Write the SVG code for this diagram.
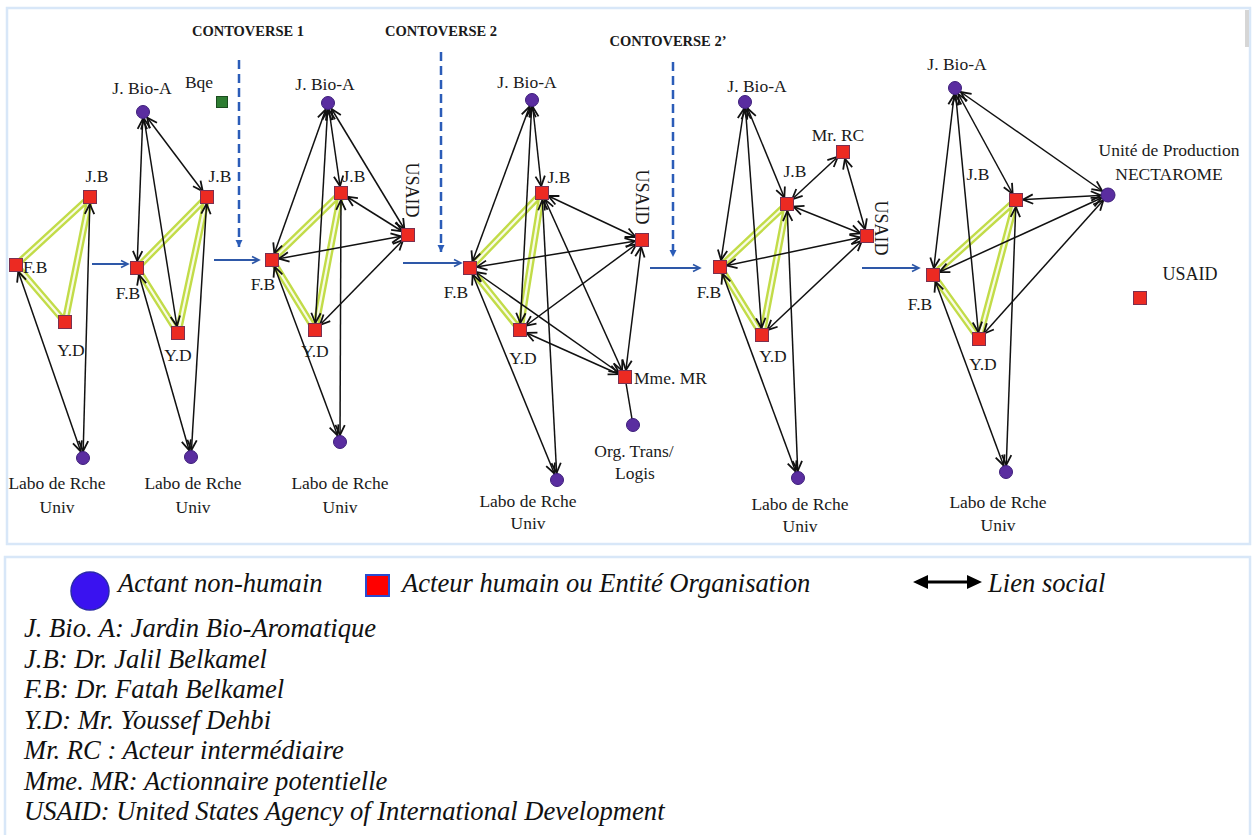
<svg xmlns="http://www.w3.org/2000/svg" width="1255" height="835" viewBox="0 0 1255 835">
<style>
.lbl{font-family:"Liberation Serif","Times New Roman",serif;font-size:17.5px;fill:#1a1a1a}
.mid{text-anchor:middle}
.ctv{font-family:"Liberation Serif","Times New Roman",serif;font-size:14.5px;font-weight:bold;fill:#1a1a1a;text-anchor:middle}
.leg{font-family:"Liberation Serif","Times New Roman",serif;font-size:26.6px;font-style:italic;fill:#111}
.sq{fill:#ec2a22;stroke:#7a3050;stroke-width:1}
.ci{fill:#5a2da0;stroke:#3d1f7a;stroke-width:1}
.lk{stroke:#111;stroke-width:1.5;fill:none;marker-start:url(#ah);marker-end:url(#ah)}
.pl{stroke:#111;stroke-width:1.5;fill:none}
.gO{stroke:#c2dc48;stroke-width:7;stroke-linecap:round;fill:none}
.gI{stroke:#f8fbe6;stroke-width:2.2;stroke-linecap:round;fill:none}
.hb{stroke:#2e58a8;stroke-width:2;fill:none;marker-end:url(#bh)}
.db{stroke:#2b5cb8;stroke-width:2.5;stroke-dasharray:9 5;fill:none;marker-end:url(#dh)}
.frame{fill:#fff;stroke:#d8e7f8;stroke-width:2.5}
</style>
<defs>
<marker id="ah" markerUnits="userSpaceOnUse" markerWidth="20" markerHeight="12" refX="17" refY="5" orient="auto-start-reverse" overflow="visible">
<path d="M0,0.3 L10,5 L0,9.7" fill="none" stroke="#111" stroke-width="1.8"/>
</marker>
<marker id="bh" markerUnits="userSpaceOnUse" markerWidth="10" markerHeight="10" refX="8" refY="4" orient="auto" overflow="visible">
<path d="M1,0.5 L8,4 L1,7.5" fill="none" stroke="#2e58a8" stroke-width="1.6"/>
</marker>
<marker id="dh" markerUnits="userSpaceOnUse" markerWidth="10" markerHeight="10" refX="7" refY="3.5" orient="auto" overflow="visible">
<path d="M0,0 L7,3.5 L0,7 z" fill="#2b5cb8"/>
</marker>
</defs>
<rect x="0" y="0" width="1255" height="835" fill="#fff"/>
<rect class="frame" x="7" y="8" width="1243" height="536"/>
<rect x="1245" y="10" width="4" height="37" fill="#d6d6d6"/>
<rect class="frame" x="5" y="557" width="1245" height="290"/>

<g id="controversies">
<text class="ctv" x="248" y="36">CONTOVERSE 1</text>
<text class="ctv" x="441" y="36">CONTOVERSE 2</text>
<text class="ctv" x="668" y="46">CONTOVERSE 2’</text>
<line class="db" x1="239" y1="60" x2="239" y2="247"/>
<line class="db" x1="441" y1="52" x2="441" y2="252"/>
<line class="db" x1="673" y1="62" x2="673" y2="257"/>
</g>

<g id="connectors">
<line class="hb" x1="92" y1="264" x2="128" y2="264"/>
<line class="hb" x1="214" y1="260" x2="259" y2="260"/>
<line class="hb" x1="403" y1="263" x2="461" y2="263"/>
<line class="hb" x1="650" y1="268" x2="700" y2="268"/>
<line class="hb" x1="862" y1="268" x2="919" y2="268"/>
<g id="green">
<path class="gO" d="M16,265 L90,197 M16,265 L65,322 M65,322 L90,197"/>
<path class="gI" d="M16,265 L90,197 M16,265 L65,322 M65,322 L90,197"/>
<path class="gO" d="M137,268 L207,197 M137,268 L178,333 M178,333 L207,197"/>
<path class="gI" d="M137,268 L207,197 M137,268 L178,333 M178,333 L207,197"/>
<path class="gO" d="M272,260 L341,193 M272,260 L315,330 M315,330 L341,193"/>
<path class="gI" d="M272,260 L341,193 M272,260 L315,330 M315,330 L341,193"/>
<path class="gO" d="M470,268 L542,193 M470,268 L520,330 M520,330 L542,193"/>
<path class="gI" d="M470,268 L542,193 M470,268 L520,330 M520,330 L542,193"/>
<path class="gO" d="M720,267 L787,204 M720,267 L762,335 M762,335 L787,204"/>
<path class="gI" d="M720,267 L787,204 M720,267 L762,335 M762,335 L787,204"/>
<path class="gO" d="M933,275 L1016,200 M933,275 L979,339 M979,339 L1016,200"/>
<path class="gI" d="M933,275 L1016,200 M933,275 L979,339 M979,339 L1016,200"/>
</g>
<line class="lk" x1="16" y1="265" x2="83" y2="458"/>
<line class="lk" x1="90" y1="197" x2="83" y2="458"/>
<line class="lk" x1="143" y1="112" x2="137" y2="268"/>
<line class="lk" x1="143" y1="112" x2="178" y2="333"/>
<line class="lk" x1="143" y1="112" x2="207" y2="197"/>
<line class="lk" x1="137" y1="268" x2="191" y2="457"/>
<line class="lk" x1="207" y1="197" x2="191" y2="457"/>
<line class="lk" x1="328" y1="103" x2="272" y2="260"/>
<line class="lk" x1="328" y1="103" x2="315" y2="330"/>
<line class="lk" x1="328" y1="103" x2="341" y2="193"/>
<line class="lk" x1="328" y1="103" x2="408" y2="235"/>
<line class="lk" x1="341" y1="193" x2="408" y2="235"/>
<line class="lk" x1="272" y1="260" x2="408" y2="235"/>
<line class="lk" x1="315" y1="330" x2="408" y2="235"/>
<line class="lk" x1="272" y1="260" x2="340" y2="442"/>
<line class="lk" x1="341" y1="193" x2="340" y2="442"/>
<line class="lk" x1="532" y1="100" x2="470" y2="268"/>
<line class="lk" x1="532" y1="100" x2="520" y2="330"/>
<line class="lk" x1="532" y1="100" x2="542" y2="193"/>
<line class="lk" x1="542" y1="193" x2="642" y2="240"/>
<line class="lk" x1="542" y1="193" x2="625" y2="377"/>
<line class="lk" x1="542" y1="193" x2="557" y2="480"/>
<line class="lk" x1="470" y1="268" x2="642" y2="240"/>
<line class="lk" x1="470" y1="268" x2="557" y2="480"/>
<line class="lk" x1="470" y1="268" x2="625" y2="377"/>
<line class="lk" x1="520" y1="330" x2="642" y2="240"/>
<line class="lk" x1="520" y1="330" x2="625" y2="377"/>
<line class="lk" x1="642" y1="240" x2="625" y2="377"/>
<line class="pl" x1="625" y1="377" x2="633" y2="425"/>
<line class="lk" x1="745" y1="102" x2="720" y2="267"/>
<line class="lk" x1="745" y1="102" x2="762" y2="335"/>
<line class="lk" x1="745" y1="102" x2="787" y2="204"/>
<line class="lk" x1="787" y1="204" x2="843" y2="152"/>
<line class="lk" x1="843" y1="152" x2="867" y2="236"/>
<line class="lk" x1="787" y1="204" x2="867" y2="236"/>
<line class="lk" x1="720" y1="267" x2="867" y2="236"/>
<line class="lk" x1="762" y1="335" x2="867" y2="236"/>
<line class="lk" x1="720" y1="267" x2="798" y2="478"/>
<line class="lk" x1="787" y1="204" x2="798" y2="478"/>
<line class="lk" x1="955" y1="88" x2="933" y2="275"/>
<line class="lk" x1="955" y1="88" x2="979" y2="339"/>
<line class="lk" x1="955" y1="88" x2="1016" y2="200"/>
<line class="lk" x1="955" y1="88" x2="1108" y2="195"/>
<line class="lk" x1="1016" y1="200" x2="1108" y2="195"/>
<line class="lk" x1="933" y1="275" x2="1108" y2="195"/>
<line class="lk" x1="979" y1="339" x2="1108" y2="195"/>
<line class="lk" x1="933" y1="275" x2="1006" y2="472"/>
<line class="lk" x1="1016" y1="200" x2="1006" y2="472"/>
</g>

<g id="p1-FB"><rect class="sq" x="9.5" y="258.5" width="13" height="13"/><text class="lbl" x="23" y="273">F.B</text></g>
<g id="p1-JB"><rect class="sq" x="83.5" y="190.5" width="13" height="13"/><text class="lbl mid" x="97" y="182">J.B</text></g>
<g id="p1-YD"><rect class="sq" x="58.5" y="315.5" width="13" height="13"/><text class="lbl mid" x="71" y="356">Y.D</text></g>
<g id="p1-Labo"><circle class="ci" cx="83" cy="458" r="6.5"/><text class="lbl mid" x="57" y="489">Labo de Rche</text><text class="lbl mid" x="57" y="513">Univ</text></g>

<g id="p2-JBioA"><circle class="ci" cx="143" cy="112" r="6.5"/><text class="lbl mid" x="142" y="94">J. Bio-A</text></g>
<g id="p2-Bqe"><rect x="216.5" y="96.5" width="11" height="11" fill="#2e7d32" stroke="#1b4d1f" stroke-width="1"/><text class="lbl mid" x="199" y="88">Bqe</text></g>
<g id="p2-JB"><rect class="sq" x="200.5" y="190.5" width="13" height="13"/><text class="lbl mid" x="220" y="182">J.B</text></g>
<g id="p2-FB"><rect class="sq" x="130.5" y="261.5" width="13" height="13"/><text class="lbl mid" x="128" y="299">F.B</text></g>
<g id="p2-YD"><rect class="sq" x="171.5" y="326.5" width="13" height="13"/><text class="lbl mid" x="178" y="361">Y.D</text></g>
<g id="p2-Labo"><circle class="ci" cx="191" cy="457" r="6.5"/><text class="lbl mid" x="193" y="489">Labo de Rche</text><text class="lbl mid" x="193" y="513">Univ</text></g>

<g id="p3-JBioA"><circle class="ci" cx="328" cy="103" r="6.5"/><text class="lbl mid" x="325" y="90">J. Bio-A</text></g>
<g id="p3-JB"><rect class="sq" x="334.5" y="186.5" width="13" height="13"/><text class="lbl mid" x="354" y="182">J.B</text></g>
<g id="p3-USAID"><rect class="sq" x="401.5" y="228.5" width="13" height="13"/><text class="lbl mid" transform="translate(406,190) rotate(90)" style="font-size:18px">USAID</text></g>
<g id="p3-FB"><rect class="sq" x="265.5" y="253.5" width="13" height="13"/><text class="lbl mid" x="263" y="290">F.B</text></g>
<g id="p3-YD"><rect class="sq" x="308.5" y="323.5" width="13" height="13"/><text class="lbl mid" x="315" y="357">Y.D</text></g>
<g id="p3-Labo"><circle class="ci" cx="340" cy="442" r="6.5"/><text class="lbl mid" x="340" y="489">Labo de Rche</text><text class="lbl mid" x="340" y="513">Univ</text></g>

<g id="p4-JBioA"><circle class="ci" cx="532" cy="100" r="6.5"/><text class="lbl mid" x="527" y="88">J. Bio-A</text></g>
<g id="p4-JB"><rect class="sq" x="535.5" y="186.5" width="13" height="13"/><text class="lbl mid" x="559" y="183">J.B</text></g>
<g id="p4-USAID"><rect class="sq" x="635.5" y="233.5" width="13" height="13"/><text class="lbl mid" transform="translate(636,197) rotate(90)" style="font-size:18px">USAID</text></g>
<g id="p4-FB"><rect class="sq" x="463.5" y="261.5" width="13" height="13"/><text class="lbl mid" x="456" y="298">F.B</text></g>
<g id="p4-YD"><rect class="sq" x="513.5" y="323.5" width="13" height="13"/><text class="lbl mid" x="523" y="364">Y.D</text></g>
<g id="p4-MmeMR"><rect class="sq" x="618.5" y="370.5" width="13" height="13"/><text class="lbl" x="634" y="384">Mme. MR</text></g>
<g id="p4-Org"><circle class="ci" cx="633" cy="425" r="6.5"/><text class="lbl mid" x="634" y="457">Org. Trans/</text><text class="lbl mid" x="635" y="479">Logis</text></g>
<g id="p4-Labo"><circle class="ci" cx="557" cy="480" r="6.5"/><text class="lbl mid" x="528" y="507">Labo de Rche</text><text class="lbl mid" x="528" y="529">Univ</text></g>

<g id="p5-JBioA"><circle class="ci" cx="745" cy="102" r="6.5"/><text class="lbl mid" x="757" y="92">J. Bio-A</text></g>
<g id="p5-MrRC"><rect class="sq" x="836.5" y="145.5" width="13" height="13"/><text class="lbl mid" x="838" y="141">Mr. RC</text></g>
<g id="p5-JB"><rect class="sq" x="780.5" y="197.5" width="13" height="13"/><text class="lbl mid" x="795" y="177">J.B</text></g>
<g id="p5-USAID"><rect class="sq" x="860.5" y="229.5" width="13" height="13"/><text class="lbl mid" transform="translate(875,228) rotate(90)" style="font-size:18px">USAID</text></g>
<g id="p5-FB"><rect class="sq" x="713.5" y="260.5" width="13" height="13"/><text class="lbl mid" x="709" y="298">F.B</text></g>
<g id="p5-YD"><rect class="sq" x="755.5" y="328.5" width="13" height="13"/><text class="lbl mid" x="773" y="362">Y.D</text></g>
<g id="p5-Labo"><circle class="ci" cx="798" cy="478" r="6.5"/><text class="lbl mid" x="800" y="510">Labo de Rche</text><text class="lbl mid" x="800" y="532">Univ</text></g>

<g id="p6-JBioA"><circle class="ci" cx="955" cy="88" r="6.5"/><text class="lbl mid" x="957" y="70">J. Bio-A</text></g>
<g id="p6-Nectarome"><circle class="ci" cx="1108" cy="195" r="7"/><text class="lbl mid" x="1169" y="156">Unité de Production</text><text class="lbl mid" x="1169" y="180">NECTAROME</text></g>
<g id="p6-JB"><rect class="sq" x="1009.5" y="193.5" width="13" height="13"/><text class="lbl mid" x="978" y="180">J.B</text></g>
<g id="p6-FB"><rect class="sq" x="926.5" y="268.5" width="13" height="13"/><text class="lbl mid" x="920" y="310">F.B</text></g>
<g id="p6-YD"><rect class="sq" x="972.5" y="332.5" width="13" height="13"/><text class="lbl mid" x="983" y="370">Y.D</text></g>
<g id="p6-Labo"><circle class="ci" cx="1006" cy="472" r="6.5"/><text class="lbl mid" x="998" y="508">Labo de Rche</text><text class="lbl mid" x="998" y="531">Univ</text></g>
<g id="p6-USAID"><rect class="sq" x="1133.5" y="291.5" width="13" height="13"/><text class="lbl mid" x="1190" y="280" style="font-size:18px">USAID</text></g>

<g id="legend">
<circle cx="90" cy="591" r="19" fill="#3a12f0" stroke="#2a2aa8" stroke-width="1.5"/>
<text class="leg" x="118" y="592">Actant non-humain</text>
<rect x="366" y="575" width="23" height="21" fill="#f00" stroke="#2a4bd0" stroke-width="2"/>
<text class="leg" x="402" y="592">Acteur humain ou Entité Organisation</text>
<line x1="924" y1="582" x2="971" y2="582" stroke="#000" stroke-width="3"/>
<path d="M913,582 L928,575 L928,589 z M982,582 L967,575 L967,589 z" fill="#000"/>
<text class="leg" x="988" y="592">Lien social</text>
<text class="leg" x="24" y="637">J. Bio. A: Jardin Bio-Aromatique</text>
<text class="leg" x="24" y="668">J.B: Dr. Jalil Belkamel</text>
<text class="leg" x="24" y="698">F.B: Dr. Fatah Belkamel</text>
<text class="leg" x="24" y="729">Y.D: Mr. Youssef Dehbi</text>
<text class="leg" x="24" y="759">Mr. RC : Acteur intermédiaire</text>
<text class="leg" x="24" y="790">Mme. MR: Actionnaire potentielle</text>
<text class="leg" x="24" y="820">USAID: United States Agency of International Development</text>
</g>
</svg>
